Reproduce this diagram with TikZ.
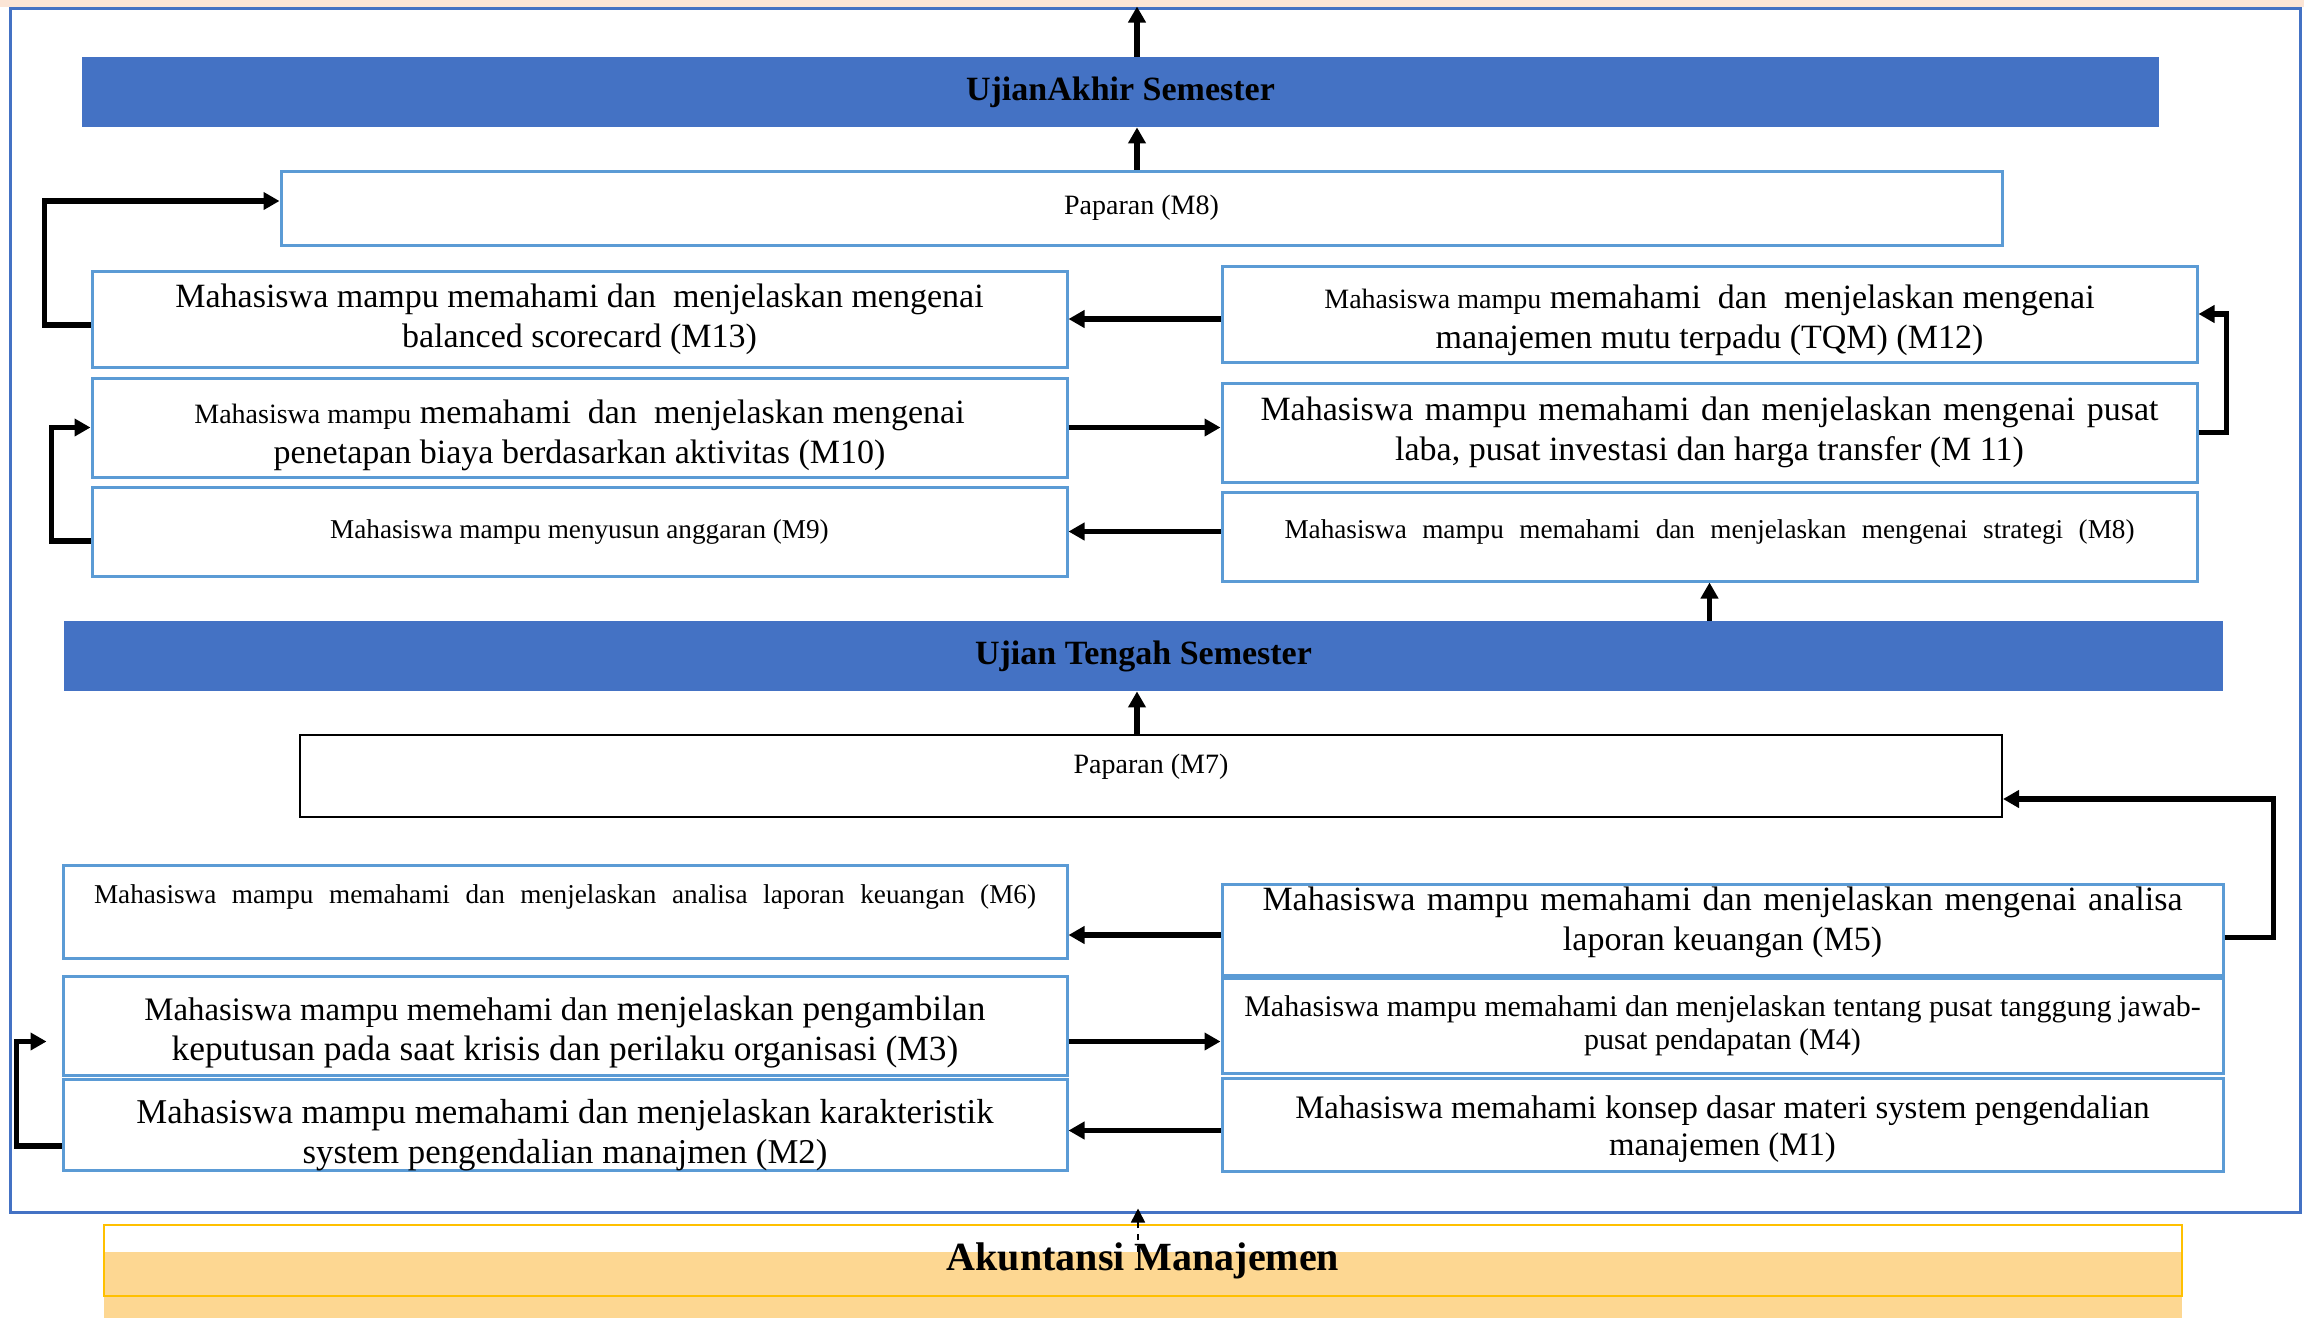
\documentclass[tikz,border=0pt]{standalone}
\usepackage{fontspec}
\setmainfont{Liberation Serif}
\usetikzlibrary{arrows.meta}

\definecolor{biru}{HTML}{4472C4}
\definecolor{birumuda}{HTML}{5B9BD5}
\definecolor{peach}{HTML}{FBE5D6}
\definecolor{kuning}{HTML}{FFC000}
\definecolor{oranye}{RGB}{253,215,146}

\newcommand{\besar}{\fontsize{17}{20}\selectfont}
\newcommand{\kecil}{\fontsize{13.6}{20}\selectfont}

\begin{document}
\begin{tikzpicture}[x=0.5pt, y=-0.5pt,
    kotak/.style={draw=birumuda, line width=1.5pt, minimum width=487.5pt, align=center, inner sep=0pt, font=\besar},
    isi/.style={anchor=center, align=center, inner sep=0pt, font=\besar},
    pita/.style={fill=biru, inner sep=0pt, minimum height=35pt, font=\fontsize{17}{20}\selectfont\bfseries},
    panah/.style={line width=2.7pt, -{Triangle[length=8pt,width=8.5pt]}}]

\useasboundingbox (0,0) rectangle (2304,1318);
\fill[peach] (0,0) rectangle (2304,7);
\node[draw=biru, line width=1.5pt, minimum width=1145pt, minimum height=602pt, inner sep=0pt] (bingkai) at (1155,610) {};

\coordinate (puncak) at (1137,8);
\coordinate (ekor) at (1138,1252);

\node[pita, minimum width=1038.5pt] (uas) at (1120.5,92) {UjianAkhir Semester};
\node[kotak, minimum width=860.5pt, minimum height=37pt, font=\fontsize{14}{20}\selectfont] (pap8) at (1141.5,208) {Paparan (M8)};

\node[kotak, minimum height=48pt] (m13) at (579.5,319) {Mahasiswa mampu memahami dan\ \ menjelaskan mengenai\\balanced scorecard (M13)};
\node[kotak, minimum height=49.5pt,
    label={[isi, yshift=-3.9pt]center:{{\fontsize{14}{20}\selectfont Mahasiswa mampu} memahami\ \ dan\ \ menjelaskan mengenai\\penetapan biaya berdasarkan aktivitas (M10)}}] (m10) at (579.5,427.5) {};
\node[kotak, minimum height=44.5pt, font=\kecil] (m9) at (579.5,531.5) {Mahasiswa mampu menyusun anggaran (M9)};

\node[kotak, minimum height=48pt,
    label={[isi, yshift=-3pt]center:{{\fontsize{14}{20}\selectfont Mahasiswa mampu} memahami\ \ dan\ \ menjelaskan mengenai\\manajemen mutu terpadu (TQM) (M12)}}] (m12) at (1709.5,314) {};
\node[kotak, minimum height=49.5pt] (m11) at (1709.5,432.5) {\makebox[449pt][s]{Mahasiswa mampu memahami dan menjelaskan mengenai pusat}\\laba, pusat investasi dan harga transfer (M 11)};
\node[kotak, minimum height=44.5pt,
    label={[isi, yshift=2.5pt, font=\kecil]center:\makebox[425pt][s]{Mahasiswa mampu memahami dan menjelaskan mengenai strategi (M8)}}] (m8) at (1709.5,536.5) {};

\node[pita, minimum width=1079.5pt] (uts) at (1143.5,656) {Ujian Tengah Semester};
\node[kotak, draw=black, line width=1pt, minimum width=851pt, minimum height=41pt,
    label={[anchor=center, yshift=-16.5pt, font=\fontsize{14}{20}\selectfont]north:Paparan (M7)}] (pap7) at (1151,776) {};

\node[kotak, minimum width=502pt, minimum height=46.5pt,
    label={[anchor=center, yshift=-16.7pt, font=\kecil]north:\makebox[471pt][s]{Mahasiswa mampu memahami dan menjelaskan analisa laporan keuangan (M6)}}] (m6) at (565,911.5) {};
\node[kotak, minimum width=502pt, minimum height=49.5pt,
    label={[isi, yshift=-3.2pt, font=\fontsize{17.7}{20}\selectfont]center:{{\fontsize{16.4}{20}\selectfont Mahasiswa mampu memehami dan} menjelaskan pengambilan\\keputusan pada saat krisis dan perilaku organisasi (M3)}}] (m3) at (565,1025.5) {};
\node[kotak, minimum width=502pt, minimum height=45.5pt,
    label={[isi, yshift=-5.1pt, font=\fontsize{17.4}{20}\selectfont]center:{Mahasiswa mampu memahami dan menjelaskan karakteristik\\system pengendalian manajmen (M2)}}] (m2) at (565,1124.5) {};

\node[kotak, minimum width=500.5pt, minimum height=45.5pt,
    label={[isi, yshift=3.6pt]center:{\makebox[460pt][s]{Mahasiswa mampu memahami dan menjelaskan mengenai analisa}\\laporan keuangan (M5)}}] (m5) at (1722.5,929.5) {};
\node[kotak, minimum width=500.5pt, minimum height=47.5pt, font=\fontsize{15}{16.5}\selectfont] (m4) at (1722.5,1025.5) {Mahasiswa mampu memahami dan menjelaskan tentang pusat tanggung jawab-\\pusat pendapatan (M4)};
\node[kotak, minimum width=500.5pt, minimum height=46.5pt,
    label={[isi, yshift=-2.2pt, font=\fontsize{16.4}{18.5}\selectfont]center:{Mahasiswa memahami konsep dasar materi system pengendalian\\manajemen (M1)}}] (m1) at (1722.5,1124.5) {};

\fill[oranye] (104,1252) rectangle (2182,1318);
\node[draw=kuning, line width=1pt, minimum width=1039pt, minimum height=35.5pt, inner sep=0pt, font=\fontsize{20}{24}\selectfont\bfseries] (akm) at (1143,1260.5) {Akuntansi Manajemen};

\draw[panah] (uas.north -| puncak) -- (bingkai.north -| puncak);
\draw[panah] (pap8.north -| puncak) -- (uas.south -| puncak);
\draw[panah] (m12.west |- m13.east) -- (m13.east);
\draw[panah] (m10.east) -- (m10.east -| m11.west);
\draw[panah] (m8.west |- m9.east) -- (m9.east);
\draw[panah] (m11.east) -- ++(28,0) |- (m12.east);
\draw[panah] ([yshift=-4.75pt]m9.west) -- ++(-39,0) |- (m10.west);
\draw[panah] ([yshift=-3pt]m13.west) -- ++(-46,0) |- ([yshift=3.5pt]pap8.west);
\draw[panah] (uts.north -| m8.south) -- (m8.south);

\draw[panah] (pap7.north -| puncak) -- (uts.south -| puncak);
\draw[panah] ([yshift=-2.75pt]m5.west) -- ([yshift=-2.75pt]m5.west -| m6.east);
\draw[panah] ([yshift=-8pt]m3.east) -- ([yshift=-8pt]m3.east -| m4.west);
\draw[panah] ([yshift=-3pt]m1.west) -- ([yshift=-3pt]m1.west -| m2.east);
\draw[panah] ([yshift=-4pt]m5.east) -- ++(49,0) |- ([yshift=-11.5pt]pap7.east);
\draw[panah] ([yshift=-10.75pt]m2.west) -- ++(-45,0) |- ([yshift=-8pt,xshift=-7.5pt]m3.west);

\draw[line width=0.8pt, dashed, -{Triangle[length=7pt,width=7pt]}] (ekor) -- ([yshift=2.5pt]bingkai.south -| ekor);

\end{tikzpicture}
\end{document}
